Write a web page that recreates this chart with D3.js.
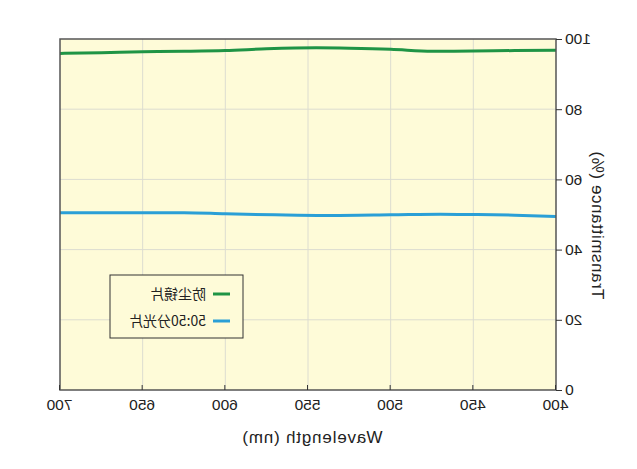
<!DOCTYPE html>
<html>
<head>
<meta charset="utf-8">
<script src="https://cdn.jsdelivr.net/npm/d3@7"></script>
<style>
  body { margin: 0; background: #fff; }
  text { font-family: 'Liberation Sans', Arial, sans-serif; }
</style>
</head>
<body>
<div id="canvas"></div>
<script>
// wavelength (nm) and transmittance (%)
const dustWl = [400, 425, 450, 475, 500, 525, 545, 575, 600, 625, 650, 675, 700]
const dustT = [96.8, 96.7, 96.6, 96.5, 97.1, 97.4, 97.5, 97.2, 96.7, 96.5, 96.4, 96.1, 95.9]
const splitWl = [400, 425, 450, 470, 500, 540, 570, 600, 625, 650, 700]
const splitT = [49.4, 49.8, 50.0, 50.1, 49.9, 49.7, 49.9, 50.2, 50.5, 50.5, 50.5]
const seriesNames = ['防尘镜片', '50:50分光片']
const xTicks = [400, 450, 500, 550, 600, 650, 700]
const yTicks = [0, 20, 40, 60, 80, 100]

const width = 637
const height = 469
const margin = { top: 39, left: 81, bottom: 79, right: 60 }
const iwidth = width - margin.left - margin.right
const iheight = height - margin.top - margin.bottom

const svg = d3.select('#canvas').append('svg')
  .attr('width', width)
  .attr('height', height)

// the reference is a mirror image, so flip the whole drawing
const root = svg.append('g')
  .attr('transform', `translate(${width},0) scale(-1,1)`)

const g = root.append('g')
  .attr('transform', `translate(${margin.left},${margin.top})`)

const x = d3.scaleLinear().domain([400, 700]).range([0, iwidth])
const y = d3.scaleLinear().domain([0, 100]).range([iheight, 0])

g.append('rect')
  .attr('width', iwidth)
  .attr('height', iheight)
  .attr('fill', '#fefbd8')

// grid
g.selectAll('.vgrid').data(xTicks.slice(1, -1)).enter().append('line')
  .attr('x1', (d) => x(d)).attr('x2', (d) => x(d))
  .attr('y1', 0).attr('y2', iheight)
  .attr('stroke', '#dcdcd0').attr('stroke-width', 1)
g.selectAll('.hgrid').data(yTicks.slice(1, -1)).enter().append('line')
  .attr('y1', (d) => y(d)).attr('y2', (d) => y(d))
  .attr('x1', 0).attr('x2', iwidth)
  .attr('stroke', '#dcdcd0').attr('stroke-width', 1)

const line = (wl, t) => d3.line()
  .x((d, i) => x(wl[i]))
  .y((d) => y(d))
  .curve(d3.curveMonotoneX)(t)

g.append('path').attr('d', line(splitWl, splitT))
  .attr('fill', 'none').attr('stroke', '#2a9fd6').attr('stroke-width', 3)
g.append('path').attr('d', line(dustWl, dustT))
  .attr('fill', 'none').attr('stroke', '#1f9445').attr('stroke-width', 3)

// frame
g.append('rect')
  .attr('width', iwidth)
  .attr('height', iheight)
  .attr('fill', 'none')
  .attr('stroke', '#555').attr('stroke-width', 1.5)

// axes
const xAxis = g.append('g')
  .attr('transform', `translate(0,${iheight})`)
  .call(d3.axisBottom(x).tickValues(xTicks).tickSize(-5).tickPadding(9))
const yAxis = g.append('g')
  .call(d3.axisLeft(y).tickValues(yTicks).tickSize(6).tickPadding(3))
;[xAxis, yAxis].forEach((a) => {
  a.select('.domain').remove()
  a.selectAll('.tick line').attr('stroke', '#333')
  a.selectAll('text').attr('font-size', 15.5).attr('fill', '#222')
    .style('font-family', "'Liberation Sans', Arial, sans-serif")
})

g.append('text')
  .attr('text-anchor', 'middle')
  .attr('x', 244)
  .attr('y', iheight + 53)
  .attr('font-size', 17)
  .attr('fill', '#222')
  .attr('letter-spacing', 0.8)
  .text('Wavelength  (nm)')

g.append('text')
  .attr('text-anchor', 'middle')
  .attr('transform', 'rotate(-90)')
  .attr('x', -186)
  .attr('y', -36)
  .attr('font-size', 17)
  .attr('fill', '#222')
  .attr('letter-spacing', 0.6)
  .text('Transmittance  (%)')

// legend
const legend = g.append('g').attr('transform', 'translate(313,236)')
legend.append('rect')
  .attr('width', 133).attr('height', 63)
  .attr('fill', '#fefbd8').attr('stroke', '#333').attr('stroke-width', 1)
const colors = ['#1f9445', '#2a9fd6']
seriesNames.forEach((name, i) => {
  const row = legend.append('g').attr('transform', `translate(13,${19 + i * 27})`)
  row.append('line').attr('x1', 0).attr('x2', 17)
    .attr('stroke', colors[i]).attr('stroke-width', 3)
  row.append('text').attr('x', 24).attr('y', 5)
    .attr('font-size', 14).attr('fill', '#222')
    .style('font-family', "'Noto Sans CJK SC', 'Liberation Sans', sans-serif")
    .text(name)
})
</script>
</body>
</html>
